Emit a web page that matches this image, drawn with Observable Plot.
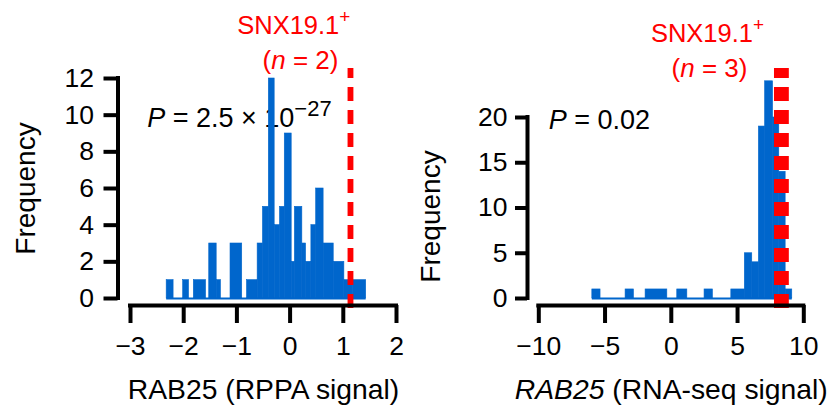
<!DOCTYPE html>
<html>
<head>
<meta charset="utf-8">
<script src="https://cdn.jsdelivr.net/npm/d3@7"></script>
<script src="https://cdn.jsdelivr.net/npm/@observablehq/plot@0.6"></script>
<style>
  html, body { margin: 0; padding: 0; background: #fff; }
  #row { display: flex; width: 828px; height: 408px; color: #000; }
</style>
</head>
<body>
<div id="row"></div>
<script>
// ---------- Left panel: RAB25 (RPPA signal) ----------
const rppaBinStart = [-2.32, -2.01, -1.81, -1.52, -1.38, -1.12, -0.81, -0.61, -0.51, -0.40, -0.29, -0.19, -0.10, 0.03, 0.09, 0.23, 0.30, 0.40, 0.49, 0.63, 0.82, 1.02, 1.18];
const rppaBinEnd   = [-2.19, -1.90, -1.58, -1.38, -1.30, -0.90, -0.61, -0.51, -0.40, -0.29, -0.19, -0.10, 0.03, 0.09, 0.23, 0.30, 0.40, 0.49, 0.63, 0.82, 1.02, 1.18, 1.43];
const rppaCounts   = [1, 1, 1, 3, 1, 3, 1, 3, 5, 12, 4, 5, 9, 2, 5, 3, 2, 4, 6, 3, 2, 1, 1];
const rppaSnx19    = [1.13, 1.14];
const rppaXTicks   = [-3, -2, -1, 0, 1, 2];
const rppaYTicks   = [0, 2, 4, 6, 8, 10, 12];
const rppaXDomain  = [-3, 2];
const rppaYDomain  = [0, 12];

// ---------- Right panel: RAB25 (RNA-seq signal) ----------
const rnaBinStart = [-5.96, -3.45, -1.94, 0.45, 2.51, 4.53, 5.55, 6.11, 6.61, 7.08, 7.68, 8.15, 8.63];
const rnaBinEnd   = [-5.34, -2.82, -0.30, 1.21, 3.14, 5.55, 6.11, 6.61, 7.08, 7.68, 8.15, 8.63, 9.13];
const rnaCounts   = [1, 1, 1, 1, 1, 1, 5, 4, 19, 24, 20, 14, 1];
const rnaSnx19    = [7.95, 8.31, 8.67];
const rnaXTicks   = [-10, -5, 0, 5, 10];
const rnaYTicks   = [0, 5, 10, 15, 20];
const rnaXDomain  = [-10, 10];
const rnaYDomain  = [0, 20];

// ---------- Text ----------
const yTitle = "Frequency";
const rppaXTitle = "RAB25 (RPPA signal)";
const rnaXTitle = "RAB25 (RNA-seq signal)";
const rppaPText = "P = 2.5 × 10−27";
const rnaPText = "P = 0.02";
const snxLabel = "SNX19.1+";
const rppaNLabel = "(n = 2)";
const rnaNLabel = "(n = 3)";

const BLUE = "#0066cc";
const RED = "#ff0000";
const FONT = "'Liberation Sans', Arial, Helvetica, sans-serif";

function rows(starts, ends, counts) {
  return counts.map((c, i) => ({x1: starts[i], x2: ends[i], count: c}));
}

function panel(o) {
  const data = rows(o.starts, o.ends, o.counts);
  const W = 414, H = 408, mT = 68, mB = 103;
  return Plot.plot({
    width: W, height: H,
    marginLeft: o.mL, marginRight: o.mR, marginTop: mT, marginBottom: mB,
    style: {fontFamily: FONT, fontSize: "26px", color: "#000", background: "#fff", overflow: "visible"},
    x: {domain: o.xDomain, insetLeft: o.insetLeft},
    y: {domain: o.yDomain, insetTop: o.insetTop, insetBottom: 7},
    marks: [
      // annotation text (drawn before bars, bars overlap it as in the original)
      Plot.text([o.pText], {frameAnchor: "top-left", dx: o.pDx, dy: o.pDy, textAnchor: "start", lineAnchor: "bottom", fontSize: 27, fill: "#000"}),
      Plot.text([snxLabel], {frameAnchor: "top-left", dx: o.sDx, dy: o.sDy, textAnchor: "middle", lineAnchor: "bottom", fontSize: 25.5, fill: RED}),
      Plot.text([o.nLabel], {frameAnchor: "top-left", dx: o.nDx, dy: o.nDy, textAnchor: "middle", lineAnchor: "bottom", fontSize: 26, fill: RED}),
      // histogram
      Plot.ruleY([0], {x1: o.starts[0], x2: o.ends[o.ends.length - 1], stroke: BLUE, strokeWidth: 2}),
      Plot.rectY(data, {x1: "x1", x2: "x2", y: "count", fill: BLUE, stroke: BLUE, strokeWidth: 0.6}),
      // SNX19.1+ samples
      Plot.ruleX(o.snx, {stroke: RED, strokeWidth: 5.3, strokeDasharray: "14,9", strokeDashoffset: 4, insetBottom: -5}),
      // axes
      Plot.ruleX([o.xDomain[0]], {y1: o.yDomain[0], y2: o.yDomain[1], dx: -o.insetLeft, strokeWidth: 4, strokeLinecap: "square"}),
      Plot.ruleY([o.yDomain[0]], {x1: o.xDomain[0], x2: o.xDomain[1], dy: 7, strokeWidth: 4, strokeLinecap: "square"}),
      Plot.axisX(o.xTicks, {tickSize: 18, tickPadding: 13, fontSize: 26.5, strokeWidth: 4, label: null}),
      Plot.axisY(o.yTicks, {tickSize: o.yTickSize, tickPadding: o.yTickPad, fontSize: 26.5, strokeWidth: 4, label: null}),
      // axis titles
      Plot.text([yTitle], {frameAnchor: "left", rotate: -90, dx: o.fDx, dy: o.fDy, textAnchor: "middle", lineAnchor: "middle", fontSize: 28, fill: "#000"}),
      Plot.text([o.xTitle], {frameAnchor: "bottom", dx: o.tDx, dy: 93, textAnchor: "middle", lineAnchor: "bottom", fontSize: 28.3, fill: "#000"})
    ]
  });
}

const left = panel({
  starts: rppaBinStart, ends: rppaBinEnd, counts: rppaCounts, snx: rppaSnx19,
  xDomain: rppaXDomain, yDomain: rppaYDomain, xTicks: rppaXTicks, yTicks: rppaYTicks,
  mL: 117.5, mR: 18, insetLeft: 12.5, insetTop: 10, yTickSize: 14, yTickPad: 10,
  pText: rppaPText, pDx: 29.2, pDy: 58.7,
  sDx: 175.8, sDy: -34.7, nLabel: rppaNLabel, nDx: 182.5, nDy: 0.3,
  fDx: -91.5, fDy: 1.5, xTitle: rppaXTitle, tDx: 6.25
});

const right = panel({
  starts: rnaBinStart, ends: rnaBinEnd, counts: rnaCounts, snx: rnaSnx19,
  xDomain: rnaXDomain, yDomain: rnaYDomain, xTicks: rnaXTicks, yTicks: rnaYTicks,
  mL: 113, mR: 24.7, insetLeft: 11.3, insetTop: 49, yTickSize: 12, yTickPad: 8,
  pText: rnaPText, pDx: 21.3, pDy: 60.3,
  sDx: 180, sDy: -26.3, nLabel: rnaNLabel, nDx: 182, nDy: 8.7,
  fDx: -96, fDy: 29.5, xTitle: rnaXTitle, tDx: 5.65
});

const row = document.getElementById("row");
row.appendChild(left);
row.appendChild(right);

// Rich text: italics and superscripts as tspans
function rich(svg, plain, parts) {
  d3.select(svg).selectAll("text")
    .filter(function () { return this.textContent === plain; })
    .each(function () {
      const t = d3.select(this);
      t.text(null);
      for (const p of parts) {
        const s = t.append("tspan").text(p.t);
        if (p.italic) s.attr("font-style", "italic");
        if (p.size) s.attr("font-size", p.size);
        if (p.dy) s.attr("dy", p.dy);
      }
    });
}
for (const svg of [left, right]) {
  rich(svg, snxLabel, [{t: "SNX19.1"}, {t: "+", size: 19, dy: -11}]);
}
rich(left, rppaNLabel, [{t: "("}, {t: "n", italic: true}, {t: " = 2)"}]);
rich(right, rnaNLabel, [{t: "("}, {t: "n", italic: true}, {t: " = 3)"}]);
rich(left, rppaPText, [{t: "P", italic: true}, {t: " = 2.5 × 10"}, {t: "−27", size: 22, dy: -11.7}]);
rich(right, rnaPText, [{t: "P", italic: true}, {t: " = 0.02"}]);
rich(right, rnaXTitle, [{t: "RAB25", italic: true}, {t: " (RNA-seq signal)"}]);
</script>
</body>
</html>
